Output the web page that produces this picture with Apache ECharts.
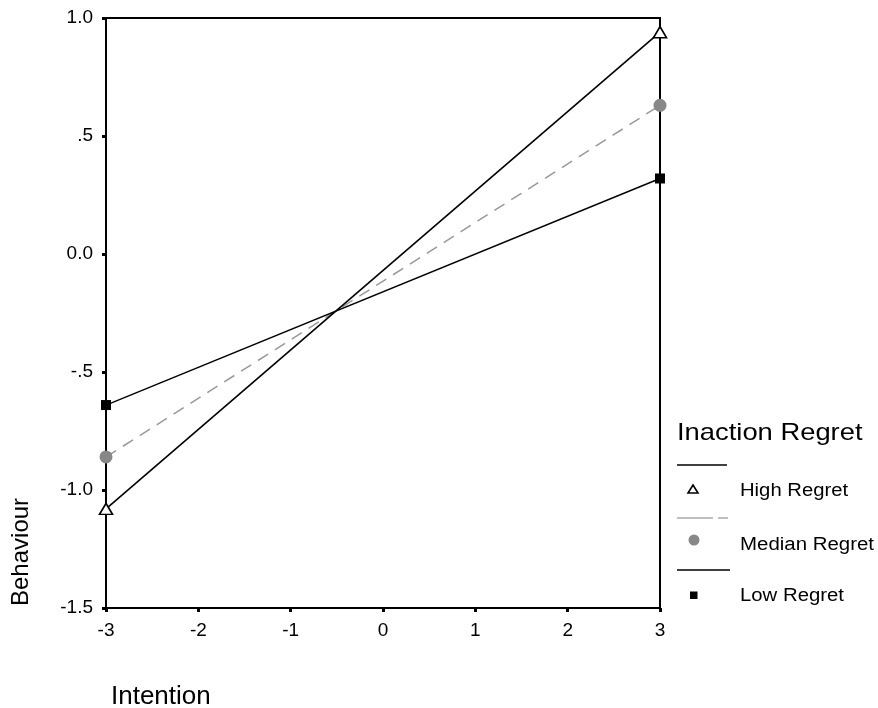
<!DOCTYPE html>
<html><head><meta charset="utf-8">
<script src="https://cdn.jsdelivr.net/npm/echarts@6/dist/echarts.min.js"></script>
<style>html,body{margin:0;padding:0;background:#fff}#c{width:878px;height:708px}</style>
</head><body><div id="c"></div>
<script>
const xValues = [-3, 3];
const highRegret = [-1.08, 0.94];
const medianRegret = [-0.86, 0.63];
const lowRegret = [-0.64, 0.32];
const seriesNames = ['High Regret', 'Median Regret', 'Low Regret'];
const yTickLabels = {'1': '1.0', '0.5': '.5', '0': '0.0', '-0.5': '-.5', '-1': '-1.0', '-1.5': '-1.5'};
const legendTitle = 'Inaction Regret';
const xTitle = 'Intention';
const yTitle = 'Behaviour';

const font = 'Liberation Sans, Arial, sans-serif';
const chart = echarts.init(document.getElementById('c'));
const pairs = v => xValues.map((x, i) => [x, v[i]]);

chart.setOption({
  backgroundColor: '#ffffff',
  animation: false,
  grid: {left: 106, top: 18, right: 218, bottom: 100, show: true, borderColor: '#000', borderWidth: 2, backgroundColor: 'transparent'},
  xAxis: {
    type: 'value', min: -3, max: 3, interval: 1,
    axisLine: {show: true, onZero: false, lineStyle: {color: '#000', width: 2}},
    axisTick: {show: true, inside: false, length: 4, lineStyle: {color: '#000', width: 3}},
    axisLabel: {color: '#000', fontSize: 19, fontFamily: font, margin: 13},
    splitLine: {show: false}
  },
  yAxis: {
    type: 'value', min: -1.5, max: 1.0, interval: 0.5,
    axisLine: {show: true, onZero: false, lineStyle: {color: '#000', width: 2}},
    axisTick: {show: true, inside: false, length: 4, lineStyle: {color: '#000', width: 3}},
    axisLabel: {color: '#000', fontSize: 19, fontFamily: font, margin: 13,
      formatter: v => yTickLabels[String(Math.round(v * 10) / 10)] ?? String(v)},
    splitLine: {show: false}
  },
  series: [
    {name: seriesNames[0], type: 'line', data: pairs(highRegret), symbol: 'triangle', symbolSize: [13, 11],
     lineStyle: {color: '#000', width: 1.6}, itemStyle: {color: '#fff', borderColor: '#000', borderWidth: 1.6}, z: 3},
    {name: seriesNames[1], type: 'line', data: pairs(medianRegret), symbol: 'circle', symbolSize: 13,
     lineStyle: {color: '#999', width: 1.5, type: [12, 8]}, itemStyle: {color: '#888', borderWidth: 0}, z: 2},
    {name: seriesNames[2], type: 'line', data: pairs(lowRegret), symbol: 'rect', symbolSize: 10,
     lineStyle: {color: '#000', width: 1.4}, itemStyle: {color: '#000', borderWidth: 0}, z: 3}
  ],
  graphic: [
    {type: 'text', x: 677, y: 433.5, scaleX: 1.14, style: {text: legendTitle, font: '24px ' + font, fill: '#000', verticalAlign: 'middle'}},
    {type: 'line', shape: {x1: 677, y1: 465, x2: 727, y2: 465}, style: {stroke: '#000', lineWidth: 1.5}},
    {type: 'polygon', shape: {points: [[693, 485], [698, 493], [688, 493]]}, style: {fill: '#fff', stroke: '#000', lineWidth: 1.6}},
    {type: 'text', x: 740, y: 491.5, scaleX: 1.125, style: {text: seriesNames[0], font: '18px ' + font, fill: '#000', verticalAlign: 'middle'}},
    {type: 'line', shape: {x1: 677, y1: 518, x2: 728, y2: 518}, style: {stroke: '#aaa', lineWidth: 1.5, lineDash: [36, 5]}},
    {type: 'circle', shape: {cx: 694, cy: 540, r: 5.5}, style: {fill: '#888'}},
    {type: 'text', x: 740, y: 545, scaleX: 1.135, style: {text: seriesNames[1], font: '18px ' + font, fill: '#000', verticalAlign: 'middle'}},
    {type: 'line', shape: {x1: 677, y1: 570, x2: 730, y2: 570}, style: {stroke: '#000', lineWidth: 1.5}},
    {type: 'rect', shape: {x: 690, y: 591.5, width: 7.5, height: 7.5}, style: {fill: '#000'}},
    {type: 'text', x: 740, y: 596, scaleX: 1.13, style: {text: seriesNames[2], font: '18px ' + font, fill: '#000', verticalAlign: 'middle'}},
    {type: 'text', x: 111, y: 697, style: {text: xTitle, font: '26px ' + font, fill: '#000', verticalAlign: 'middle'}},
    {type: 'text', x: 21, y: 606, rotation: Math.PI / 2, style: {text: yTitle, font: '24px ' + font, fill: '#000', align: 'left', verticalAlign: 'middle'}}
  ]
});
</script></body></html>
